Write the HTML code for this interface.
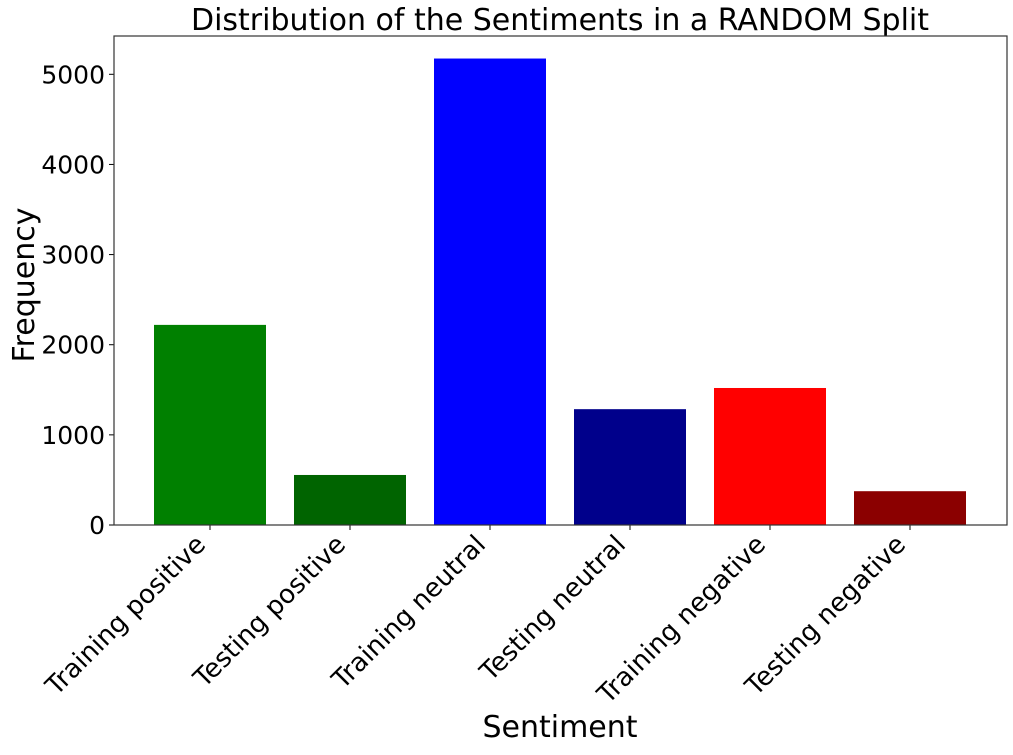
<!DOCTYPE html>
<html><head><meta charset="utf-8"><style>
body{margin:0;background:#fff;width:1013px;height:750px;overflow:hidden}
svg text{font-family:"DejaVu Sans","Liberation Sans",sans-serif;fill:#000}
</style></head><body>
<svg id="chart" width="1013" height="750">
<text x="560" y="30" font-size="30" text-anchor="middle">Distribution of the Sentiments in a RANDOM Split</text>
<g id="plot"></g>
<rect x="114" y="36" width="893" height="489" fill="none" stroke="#333" stroke-width="1.2"/>
<text x="560" y="737" font-size="30" text-anchor="middle">Sentiment</text>
<text transform="translate(34,285) rotate(-90)" font-size="30" text-anchor="middle">Frequency</text>
</svg>
<script>
const categories=["Training positive","Testing positive","Training neutral","Testing neutral","Training negative","Testing negative"];
const values=[2220,555,5175,1285,1520,375];
const colors=["#008000","#006400","#0000ff","#00008b","#ff0000","#8b0000"];
const yTicks=[0,1000,2000,3000,4000,5000];
const L=114,R=1007,B=525,T=36;
const y=v=>B-v*(525-74.3)/5000;
const step=140, x0=L+40+56;
const xc=i=>x0+i*step;
const g=document.getElementById('plot');
const NS="http://www.w3.org/2000/svg";
function mk(t,a){const e=document.createElementNS(NS,t);for(const k in a)e.setAttribute(k,a[k]);g.appendChild(e);return e;}
yTicks.forEach(v=>{
 const l=mk('line',{x1:L-5,x2:L,y1:y(v),y2:y(v),stroke:'#000'});
 
 
 const t=mk('text',{x:L-9,y:y(v)+9,'font-size':25,'text-anchor':'end'});
 t.textContent=v;
 
 
});
categories.forEach((c,i)=>{
 const r=mk('rect',{x:xc(i)-56,y:y(values[i]),width:112,height:B-y(values[i]),fill:colors[i]});
 
 
 const tk=mk('line',{x1:xc(i),x2:xc(i),y1:B,y2:B+5,stroke:'#000'});
 
 
 const t=mk('text',{'font-size':26,'text-anchor':'end',transform:`translate(${xc(i)-3},${B+21}) rotate(-45)`});
 t.textContent=c;
 
 
});
</script>
</body></html>
